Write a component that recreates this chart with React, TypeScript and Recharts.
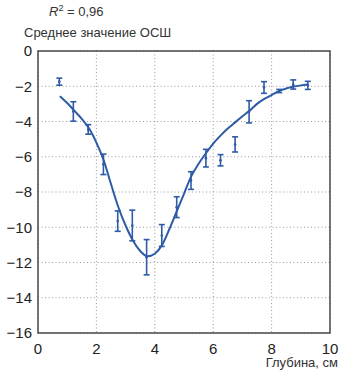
import {
  ComposedChart, Line, Scatter, ErrorBar, XAxis, YAxis, CartesianGrid, ReferenceArea,
} from 'recharts'

// measured points (depth, cm / mean SNR / error half-width)
const pointDepth = [0.73, 1.21, 1.72, 2.24, 2.73, 3.23, 3.72, 4.24, 4.75, 5.24, 5.75, 6.25, 6.75, 7.23, 7.74, 8.26, 8.74, 9.24]
const pointSnr = [-1.74, -3.43, -4.45, -6.43, -9.65, -9.9, -11.7, -10.47, -8.86, -7.35, -6.08, -6.2, -5.3, -3.45, -2.07, -2.27, -1.9, -1.95]
const pointErr = [0.2, 0.55, 0.27, 0.58, 0.58, 0.87, 1.0, 0.62, 0.59, 0.5, 0.5, 0.32, 0.43, 0.63, 0.33, 0.09, 0.26, 0.23]

// fitted curve
const curveDepth = [0.75, 1.0, 1.25, 1.5, 1.75, 2.0, 2.25, 2.5, 2.75, 3.0, 3.25, 3.5, 3.75, 4.0, 4.25, 4.5, 4.75, 5.0, 5.25, 5.5, 5.75, 6.0, 6.25, 6.5, 6.75, 7.0, 7.25, 7.5, 7.75, 8.0, 8.25, 8.5, 8.75, 9.0, 9.25]
const curveSnr = [-2.56, -2.95, -3.4, -3.85, -4.4, -5.2, -6.2, -7.55, -8.85, -9.9, -10.75, -11.35, -11.65, -11.5, -11.0, -10.1, -9.1, -8.1, -7.1, -6.4, -5.8, -5.25, -4.8, -4.4, -4.05, -3.7, -3.38, -3.0, -2.72, -2.5, -2.28, -2.13, -2.02, -1.95, -1.9]

const xTicks = [0, 2, 4, 6, 8, 10]
const yTicks = [0, -2, -4, -6, -8, -10, -12, -14, -16]

const points = pointDepth.map((x, i) => ({ x, y: pointSnr[i], err: pointErr[i] }))
const curve = curveDepth.map((x, i) => ({ x, y: curveSnr[i] }))

const BLUE = '#2d5ba6'
const FONT = '"Liberation Sans", Arial, sans-serif'
const fmt = (v: number) => String(v).replace('-', '\u2212')

const Tick = (props: any) => <circle cx={props.cx} cy={props.cy} r={1.3} fill={BLUE} />

export default function App() {
  return (
    <div style={{ position: 'absolute', left: 0, top: 0, width: 342, height: 376, background: '#fff', fontFamily: FONT, color: '#333' }}>
      <div style={{ position: 'absolute', left: 49, top: 3, fontSize: 13 }}>
        <i>R</i><sup style={{ fontSize: 9 }}>2</sup> = 0,96
      </div>
      <div style={{ position: 'absolute', left: 24, top: 25, fontSize: 13 }}>Среднее значение ОСШ</div>
      <div style={{ position: 'absolute', right: 4, top: 355, fontSize: 13 }}>Глубина, см</div>
      <ComposedChart width={342} height={376} margin={{ top: 51, right: 12, bottom: 0, left: 0 }}>
        <CartesianGrid stroke="#9a9a9a" strokeDasharray="1 2.5" />
        <XAxis
          dataKey="x" type="number" domain={[0, 10]} ticks={xTicks} height={43}
          axisLine={false} tickLine={false} tickSize={0} tickMargin={10}
          tick={{ fontSize: 15, fill: '#222', fontFamily: FONT }}
        />
        <YAxis
          dataKey="y" type="number" domain={[-16, 0]} ticks={yTicks} width={38}
          axisLine={false} tickLine={false} tickSize={0} tickMargin={6} tickFormatter={fmt}
          tick={{ fontSize: 15, fill: '#222', fontFamily: FONT }}
        />
        <ReferenceArea x1={0} x2={10} y1={-16} y2={0} fill="none" stroke="#4a4a4a" strokeWidth={1.5} />
        <Line data={curve} dataKey="y" type="monotone" stroke={BLUE} strokeWidth={2} dot={false} isAnimationActive={false} />
        <Scatter data={points} dataKey="y" fill={BLUE} shape={Tick} isAnimationActive={false}>
          <ErrorBar dataKey="err" direction="y" width={3} stroke={BLUE} strokeWidth={1.6} />
        </Scatter>
      </ComposedChart>
    </div>
  )
}
